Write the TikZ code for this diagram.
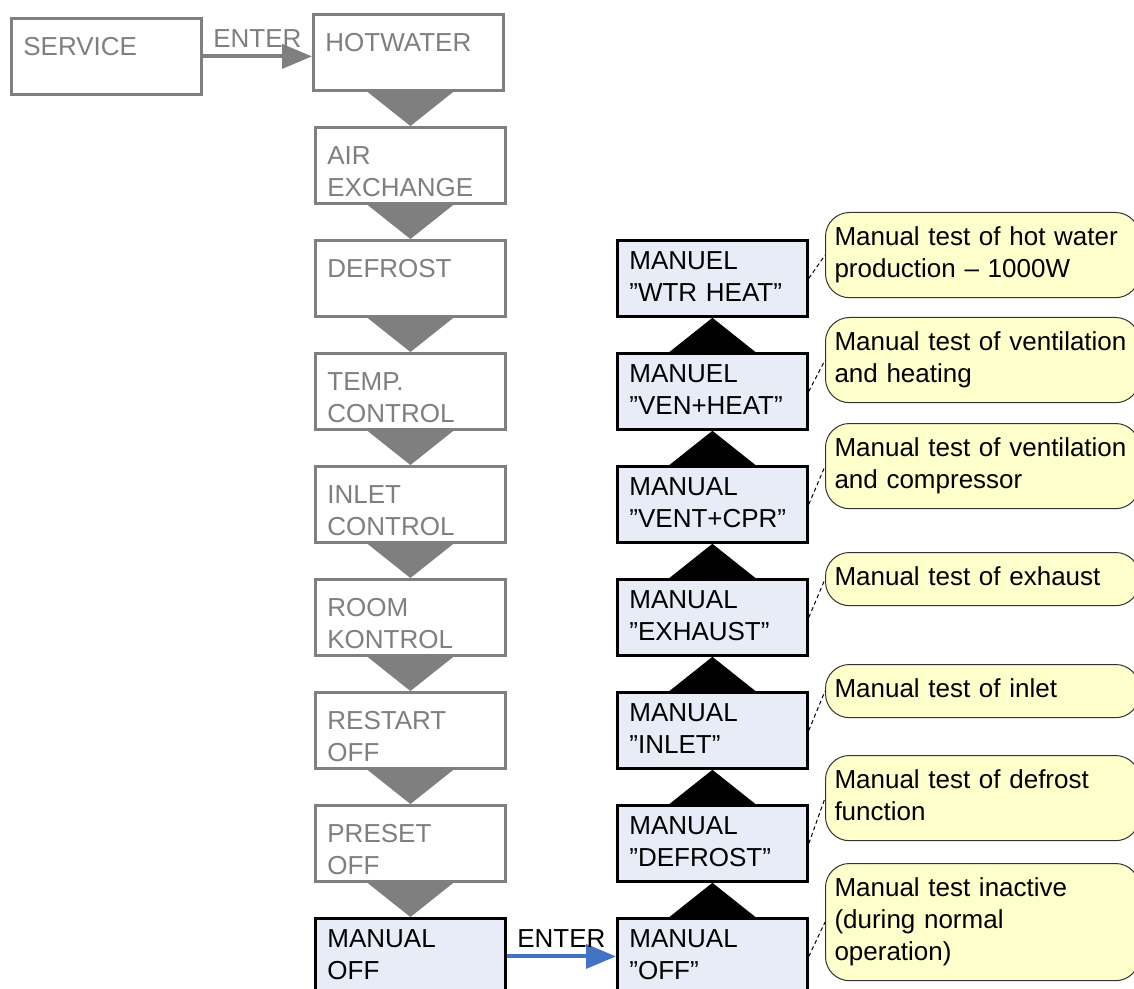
\documentclass[tikz,border=0pt]{standalone}
\usepackage{fontspec}
\setmainfont{Liberation Sans}
\usetikzlibrary{calc,arrows.meta,positioning}
\definecolor{menugray}{RGB}{127,127,127}
\definecolor{menublue}{RGB}{231,236,247}
\definecolor{enterblue}{RGB}{68,114,196}
\definecolor{noteyellow}{RGB}{255,255,204}
\tikzset{
    menufont/.style={font=\fontsize{13}{16}\selectfont},
    graybox/.style={menufont, draw=menugray, line width=1.4pt, fill=white, text=menugray,
        anchor=north west, inner xsep=6pt, inner ysep=0pt, text width=83pt, align=left,
        text height=18.5pt, text depth=19.5pt},
    bluebox/.style={graybox, draw=black, fill=menublue, text=black,
        text height=14.5pt, text depth=23.5pt},
    callout/.style={menufont, draw=black!80, line width=0.5pt, fill=noteyellow,
        rounded corners=12pt, anchor=north west, inner xsep=4.5pt, inner ysep=5.3pt,
        text width=148pt, align=left,
        execute at begin node={\strut}, execute at end node={\strut}},
    pointer/.style={black, line width=0.5pt, dash pattern=on 2pt off 1.5pt},
    enter/.style={line width=2pt, -{Triangle[length=15pt,width=12pt]}},
    entertext/.style={menufont, midway, above=3.5pt, inner sep=0pt},
}

\begin{document}
\begin{tikzpicture}[x=0.5pt,y=0.5pt,yscale=-1,xscale=1]
		\useasboundingbox (0,0) rectangle (1134,989);
		\clip (0,0) rectangle (1134,989);
		\fill[white] (0,0) rectangle (1134,989);
		
		% Text Node
		\node[graybox] (service) at (10,17) {SERVICE};
		\node[graybox] (hotwater) at (312,13) {HOTWATER};
		\node[graybox] (airex) at (314,126) {AIR\\EXCHANGE};
		\node[graybox] (defrost) at (314,239) {DEFROST};
		\node[graybox] (tempctrl) at (314,352) {TEMP.\\CONTROL};
		\node[graybox] (inletctrl) at (314,465) {INLET\\CONTROL};
		\node[graybox] (roomctrl) at (314,578) {ROOM\\KONTROL};
		\node[graybox] (restart) at (314,691) {RESTART\\OFF};
		\node[graybox] (preset) at (314,804) {PRESET\\OFF};
		\node[bluebox] (manual) at (314,917) {MANUAL\\OFF};
		
		% Text Node
		\node[bluebox] (wtrheat) at (616,239) {MANUEL\\”WTR HEAT”};
		\node[bluebox] (venheat) at (616,352) {MANUEL\\”VEN+HEAT”};
		\node[bluebox] (ventcpr) at (616,465) {MANUAL\\”VENT+CPR”};
		\node[bluebox] (exhaust) at (616,578) {MANUAL\\”EXHAUST”};
		\node[bluebox] (inlet) at (616,691) {MANUAL\\”INLET”};
		\node[bluebox] (mdefrost) at (616,804) {MANUAL\\”DEFROST”};
		\node[bluebox] (moff) at (616,917) {MANUAL\\”OFF”};
		
		% Text Node
		\node[callout] (notewtr) at (825,212) {Manual test of hot water\\production – 1000W};
		\node[callout] (noteven) at (825,317) {Manual test of ventilation\\and heating};
		\node[callout] (notecpr) at (825,423) {Manual test of ventilation\\and compressor};
		\node[callout] (noteexh) at (825,552) {Manual test of exhaust};
		\node[callout] (noteinl) at (825,664) {Manual test of inlet};
		\node[callout] (notedef) at (825,755) {Manual test of defrost\\function};
		\node[callout] (noteoff) at (825,863) {Manual test inactive\\(during normal\\operation)};
		
		% Connection
		\fill[menugray] (hotwater.south -| airex.north) ++(-43,0) -- ++(86,0) -- (airex.north) -- cycle;
		\fill[menugray] (airex.south) ++(-43,0) -- ++(86,0) -- (defrost.north) -- cycle;
		\fill[menugray] (defrost.south) ++(-43,0) -- ++(86,0) -- (tempctrl.north) -- cycle;
		\fill[menugray] (tempctrl.south) ++(-43,0) -- ++(86,0) -- (inletctrl.north) -- cycle;
		\fill[menugray] (inletctrl.south) ++(-43,0) -- ++(86,0) -- (roomctrl.north) -- cycle;
		\fill[menugray] (roomctrl.south) ++(-43,0) -- ++(86,0) -- (restart.north) -- cycle;
		\fill[menugray] (restart.south) ++(-43,0) -- ++(86,0) -- (preset.north) -- cycle;
		\fill[menugray] (preset.south) ++(-43,0) -- ++(86,0) -- (manual.north) -- cycle;
		
		% Connection
		\fill[black] (venheat.north) ++(-43,0) -- ++(86,0) -- (wtrheat.south) -- cycle;
		\fill[black] (ventcpr.north) ++(-43,0) -- ++(86,0) -- (venheat.south) -- cycle;
		\fill[black] (exhaust.north) ++(-43,0) -- ++(86,0) -- (ventcpr.south) -- cycle;
		\fill[black] (inlet.north) ++(-43,0) -- ++(86,0) -- (exhaust.south) -- cycle;
		\fill[black] (mdefrost.north) ++(-43,0) -- ++(86,0) -- (inlet.south) -- cycle;
		\fill[black] (moff.north) ++(-43,0) -- ++(86,0) -- (mdefrost.south) -- cycle;
		
		% Connection
		\draw[enter, menugray] (service.east) -- (service.east -| hotwater.west) node[entertext, text=menugray] {ENTER};
		\draw[enter, enterblue] (manual.east) -- (moff.west) node[entertext, text=black] {ENTER};
		
		% Connection
		\draw[pointer] (wtrheat.east) -- (notewtr.west);
		\draw[pointer] (venheat.east) -- (noteven.west);
		\draw[pointer] (ventcpr.east) -- (notecpr.west);
		\draw[pointer] (exhaust.east) -- (noteexh.west);
		\draw[pointer] (inlet.east) -- (noteinl.west);
		\draw[pointer] (mdefrost.east) -- (notedef.west);
		\draw[pointer] (moff.east) -- (noteoff.west);
		
\end{tikzpicture}
\end{document}
